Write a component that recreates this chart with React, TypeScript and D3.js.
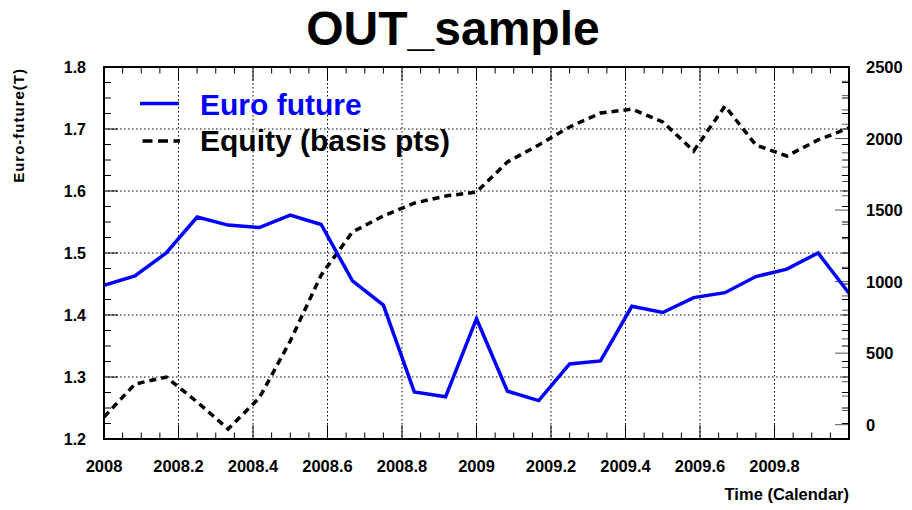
import React, { useEffect, useRef } from "react";
import * as d3 from "d3";

// monthly sample points (calendar years)
const times = [
  2008.0, 2008.083, 2008.167, 2008.25, 2008.333, 2008.417, 2008.5, 2008.583,
  2008.667, 2008.75, 2008.833, 2008.917, 2009.0, 2009.083, 2009.167, 2009.25,
  2009.333, 2009.417, 2009.5, 2009.583, 2009.667, 2009.75, 2009.833, 2009.917,
  2010.0,
];

const euroFuture = [
  1.448, 1.463, 1.5, 1.558, 1.545, 1.541, 1.561, 1.546, 1.455, 1.416, 1.276,
  1.268, 1.394, 1.277, 1.262, 1.321, 1.326, 1.414, 1.404, 1.428, 1.436, 1.462,
  1.474, 1.5, 1.435,
];

const equity = [
  54, 284, 333, 159, -30, 187, 585, 1046, 1347, 1459, 1549, 1598, 1626, 1836,
  1955, 2081, 2178, 2206, 2116, 1913, 2227, 1955, 1878, 1990, 2074,
];

const xTicks = [2008, 2008.2, 2008.4, 2008.6, 2008.8, 2009, 2009.2, 2009.4, 2009.6, 2009.8];
const xTickLabels = ["2008", "2008.2", "2008.4", "2008.6", "2008.8", "2009", "2009.2", "2009.4", "2009.6", "2009.8"];
const yTicks = [1.2, 1.3, 1.4, 1.5, 1.6, 1.7, 1.8];
const y2Ticks = [0, 500, 1000, 1500, 2000, 2500];

const FONT = "'Liberation Sans', Arial, Helvetica, sans-serif";

const App = () => {
  const svgRef = useRef<SVGSVGElement>(null);

  useEffect(() => {
    const W = 912;
    const H = 510;
    const m = { left: 104, right: 849, top: 67, bottom: 439 };

    const svg = d3.select(svgRef.current);
    svg.selectAll("*").remove();
    svg.attr("width", W).attr("height", H);

    svg.append("rect").attr("width", W).attr("height", H).attr("fill", "#fff");

    const x = d3.scaleLinear().domain([2008, 2010]).range([m.left, m.right]);
    const y = d3.scaleLinear().domain([1.2, 1.8]).range([m.bottom, m.top]);
    const y2 = d3.scaleLinear().domain([-100, 2500]).range([m.bottom, m.top]);

    svg
      .append("defs")
      .append("clipPath")
      .attr("id", "plotClip")
      .append("rect")
      .attr("x", m.left)
      .attr("y", m.top)
      .attr("width", m.right - m.left)
      .attr("height", m.bottom - m.top);

    // grid
    const grid = svg.append("g").attr("stroke", "#000").attr("stroke-width", 1).attr("stroke-dasharray", "1.5,2.5");
    xTicks.slice(1).forEach((t) => {
      grid.append("line").attr("x1", x(t)).attr("x2", x(t)).attr("y1", m.top).attr("y2", m.bottom);
    });
    yTicks.slice(1, -1).forEach((t) => {
      grid.append("line").attr("x1", m.left).attr("x2", m.right).attr("y1", y(t)).attr("y2", y(t));
    });

    // ticks
    const ticks = svg.append("g").attr("stroke", "#000").attr("stroke-width", 1);
    d3.range(2008, 2010.001, 0.05).forEach((t, i) => {
      const len = i % 4 === 0 ? 14 : 6.5;
      ticks.append("line").attr("x1", x(t)).attr("x2", x(t)).attr("y1", m.bottom).attr("y2", m.bottom - len);
      ticks.append("line").attr("x1", x(t)).attr("x2", x(t)).attr("y1", m.top).attr("y2", m.top + len);
    });
    d3.range(1.2, 1.8001, 0.025).forEach((t, i) => {
      const len = i % 4 === 0 ? 14 : 7;
      ticks.append("line").attr("x1", m.left).attr("x2", m.left + len).attr("y1", y(t)).attr("y2", y(t));
      ticks.append("line").attr("x1", m.right).attr("x2", m.right - 7).attr("y1", y(t)).attr("y2", y(t));
    });
    d3.range(-100, 2501, 100).forEach((t) => {
      const len = t % 500 === 0 ? 14 : 7;
      ticks
        .append("line")
        .attr("x1", m.right)
        .attr("x2", m.right - len)
        .attr("y1", y2(t))
        .attr("y2", y2(t))
        .attr("stroke", "#555");
    });

    // series
    const lineEuro = d3
      .line<number>()
      .x((_, i) => x(times[i]))
      .y((d) => y(d));
    const lineEq = d3
      .line<number>()
      .x((_, i) => x(times[i]))
      .y((d) => y2(d));

    const plot = svg.append("g").attr("clip-path", "url(#plotClip)");
    plot
      .append("path")
      .datum(equity)
      .attr("d", lineEq)
      .attr("fill", "none")
      .attr("stroke", "#000")
      .attr("stroke-width", 3.5)
      .attr("stroke-dasharray", "7,5");
    plot
      .append("path")
      .datum(euroFuture)
      .attr("d", lineEuro)
      .attr("fill", "none")
      .attr("stroke", "#0000ff")
      .attr("stroke-width", 3.5)
      .attr("stroke-linejoin", "miter");

    // frame
    svg
      .append("rect")
      .attr("x", m.left)
      .attr("y", m.top)
      .attr("width", m.right - m.left)
      .attr("height", m.bottom - m.top)
      .attr("fill", "none")
      .attr("stroke", "#000")
      .attr("stroke-width", 2);

    const text = svg.append("g").attr("font-family", FONT).attr("font-weight", "bold").attr("fill", "#000");

    // tick labels
    xTicks.forEach((t, i) => {
      text
        .append("text")
        .attr("x", x(t))
        .attr("y", m.bottom + 33)
        .attr("text-anchor", "middle")
        .attr("font-size", 16.5)
        .text(xTickLabels[i]);
    });
    yTicks.forEach((t) => {
      text
        .append("text")
        .attr("x", 86)
        .attr("y", y(t) + 6)
        .attr("text-anchor", "end")
        .attr("font-size", 16)
        .text(d3.format(".1f")(t));
    });
    y2Ticks.forEach((t) => {
      text
        .append("text")
        .attr("x", 866)
        .attr("y", y2(t) + 6)
        .attr("text-anchor", "start")
        .attr("font-size", 16.5)
        .text(String(t));
    });

    // axis titles
    text
      .append("text")
      .attr("transform", `translate(24,${m.top + 1}) rotate(-90)`)
      .attr("text-anchor", "end")
      .attr("font-size", 15)
      .attr("letter-spacing", 1)
      .text("Euro-future(T)");
    text
      .append("text")
      .attr("x", m.right)
      .attr("y", 500)
      .attr("text-anchor", "end")
      .attr("font-size", 16.5)
      .text("Time (Calendar)");

    // title
    text
      .append("text")
      .attr("x", 453)
      .attr("y", 45)
      .attr("text-anchor", "middle")
      .attr("font-size", 48)
      .text("OUT_sample");

    // legend
    const leg = svg.append("g").attr("font-family", FONT).attr("font-weight", "bold");
    leg.append("line").attr("x1", 140).attr("x2", 179).attr("y1", 103.5).attr("y2", 103.5).attr("stroke", "#0000ff").attr("stroke-width", 3.5);
    leg.append("text").attr("x", 200).attr("y", 114.5).attr("font-size", 30).attr("fill", "#0000ff").text("Euro future");
    leg
      .append("line")
      .attr("x1", 142.5)
      .attr("x2", 180)
      .attr("y1", 141)
      .attr("y2", 141)
      .attr("stroke", "#000")
      .attr("stroke-width", 3.5)
      .attr("stroke-dasharray", "10,5.5");
    leg.append("text").attr("x", 200).attr("y", 151).attr("font-size", 30).attr("fill", "#000").text("Equity (basis pts)");
  }, []);

  return <svg ref={svgRef} style={{ position: "absolute", left: 0, top: 0, display: "block" }}></svg>;
};

export default App;
